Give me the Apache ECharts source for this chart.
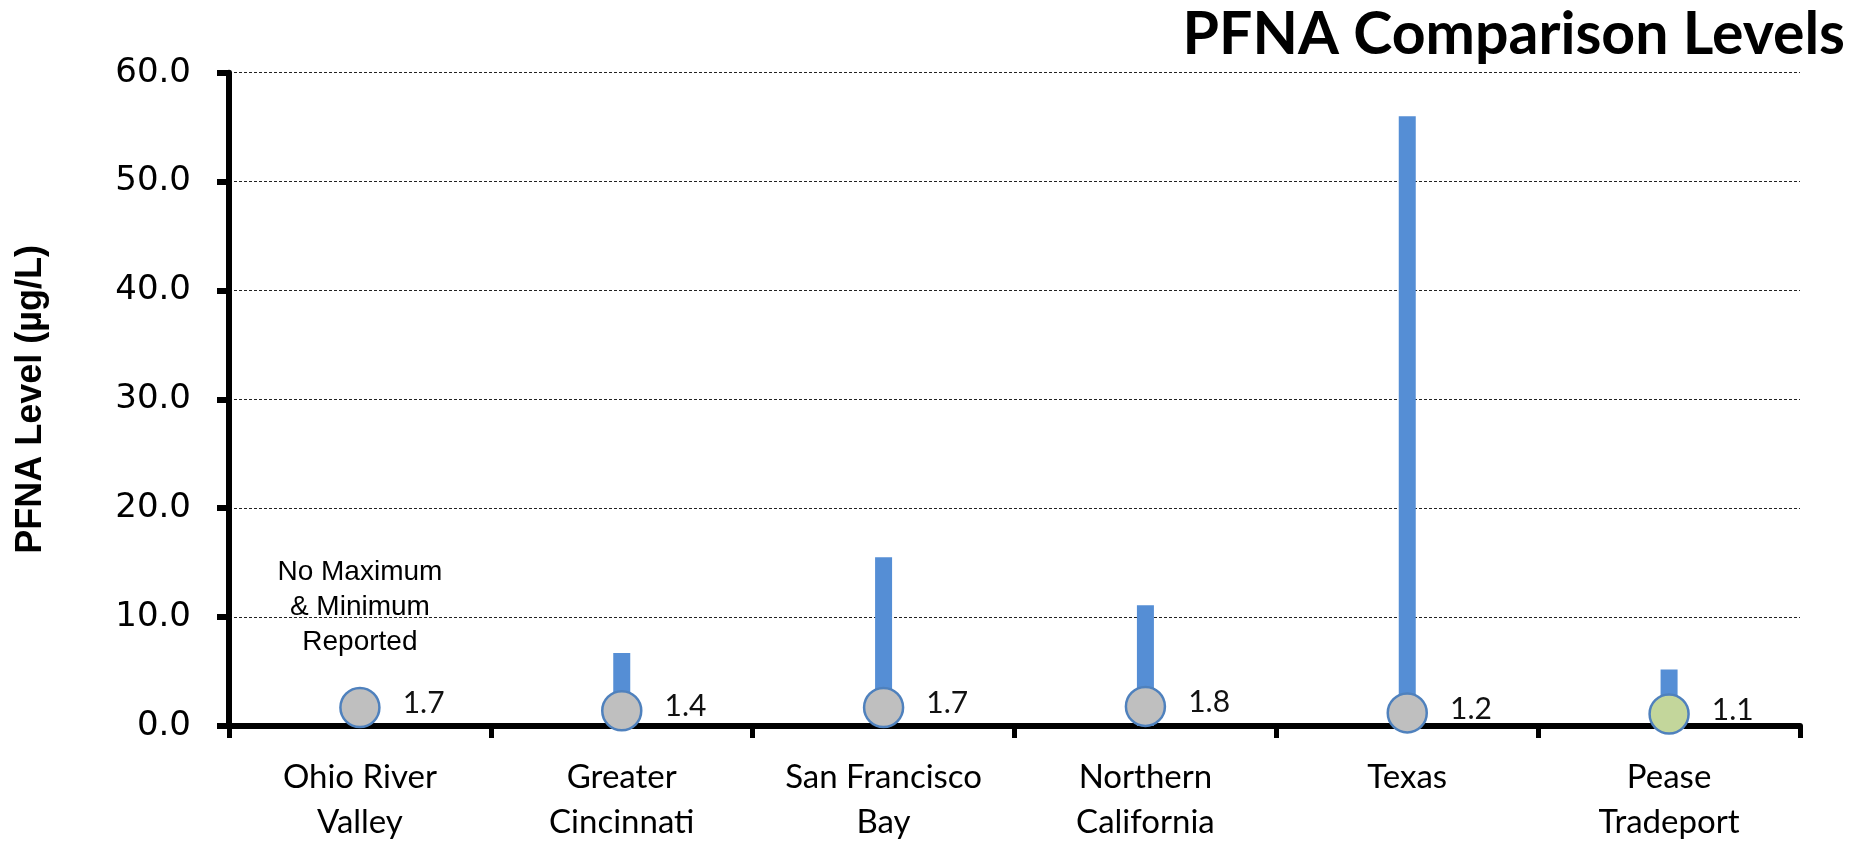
<!DOCTYPE html>
<html>
<head>
<meta charset="utf-8">
<script src="https://cdn.jsdelivr.net/npm/echarts@6/dist/echarts.min.js"></script>
<style>
html,body{margin:0;padding:0;background:#fff;}
#chart{width:1860px;height:845px;}
</style>
</head>
<body>
<div id="chart"></div>
<script>
// ---- data ----
const titleText = 'PFNA Comparison Levels';
const yAxisTitle = 'PFNA Level (µg/L)';
const categories = ['Ohio River\nValley', 'Greater\nCincinnati', 'San Francisco\nBay', 'Northern\nCalifornia', 'Texas', 'Pease\nTradeport'];
const averageLevels = [1.7, 1.4, 1.7, 1.8, 1.2, 1.1];
const maximumLevels = [null, 6.7, 15.5, 11.1, 56.0, 5.2];
const highlightedSite = 'Pease\nTradeport';
const noteText = 'No Maximum\n& Minimum\nReported';
const noteSite = 'Ohio River\nValley';
const noteLevel = 10.9;
const yMin = 0, yMax = 60, yStep = 10;

// ---- chart ----
const chart = echarts.init(document.getElementById('chart'), null, {renderer: 'canvas'});
const option = {
  backgroundColor: '#ffffff',
  animation: false,
  title: {
    text: titleText,
    right: 10,
    top: 0,
    textStyle: {fontFamily: 'Lato', fontWeight: 'bold', fontSize: 59, color: '#000'}
  },
  grid: {left: 229, right: 60, top: 72.7, bottom: 118.3, containLabel: false},
  xAxis: {
    type: 'category',
    data: categories,
    boundaryGap: true,
    axisLine: {show: true, lineStyle: {color: '#000', width: 6}},
    axisTick: {show: true, length: 12, lineStyle: {color: '#000', width: 5}},
    axisLabel: {fontFamily: 'Lato', fontSize: 33, lineHeight: 45, color: '#000', margin: 29, interval: 0},
    splitLine: {show: false}
  },
  yAxis: {
    type: 'value',
    min: yMin, max: yMax, interval: yStep,
    name: yAxisTitle,
    nameLocation: 'middle',
    nameGap: 180,
    nameRotate: 90,
    nameTextStyle: {fontFamily: 'Liberation Sans', fontWeight: 'bold', fontSize: 36, color: '#000'},
    axisLine: {show: true, lineStyle: {color: '#000', width: 6}},
    axisTick: {show: true, length: 12, lineStyle: {color: '#000', width: 6}},
    axisLabel: {
      fontFamily: 'DejaVu Sans', fontSize: 34, color: '#000', margin: 38,
      formatter: v => v.toFixed(1)
    },
    splitLine: {show: true, lineStyle: {color: '#222', width: 1, type: [3, 2]}}
  },
  series: [
    {
      type: 'bar',
      name: 'Maximum',
      data: maximumLevels,
      barWidth: 17,
      z: 2,
      itemStyle: {color: '#558ED5'}
    },
    {
      type: 'scatter',
      name: 'Average',
      z: 5,
      symbol: 'circle',
      symbolSize: 39,
      data: averageLevels.map((v, i) => ({
        value: v,
        itemStyle: {color: categories[i] === highlightedSite ? '#C3D69B' : '#BFBFBF'}
      })),
      itemStyle: {borderColor: '#4F81BD', borderWidth: 2.5, opacity: 1},
      label: {
        show: true,
        position: 'right',
        distance: 22,
        offset: [0, -4],
        fontFamily: 'Lato',
        fontSize: 30,
        color: '#111',
        formatter: p => p.value.toFixed(1)
      },
      markPoint: {
        symbol: 'circle',
        symbolSize: 0,
        label: {
          show: true,
          position: 'inside',
          fontFamily: 'Liberation Sans',
          fontSize: 28,
          lineHeight: 35,
          color: '#000',
          formatter: () => noteText
        },
        data: [{coord: [noteSite, noteLevel]}]
      }
    }
  ]
};
chart.setOption(option);
</script>
</body>
</html>
